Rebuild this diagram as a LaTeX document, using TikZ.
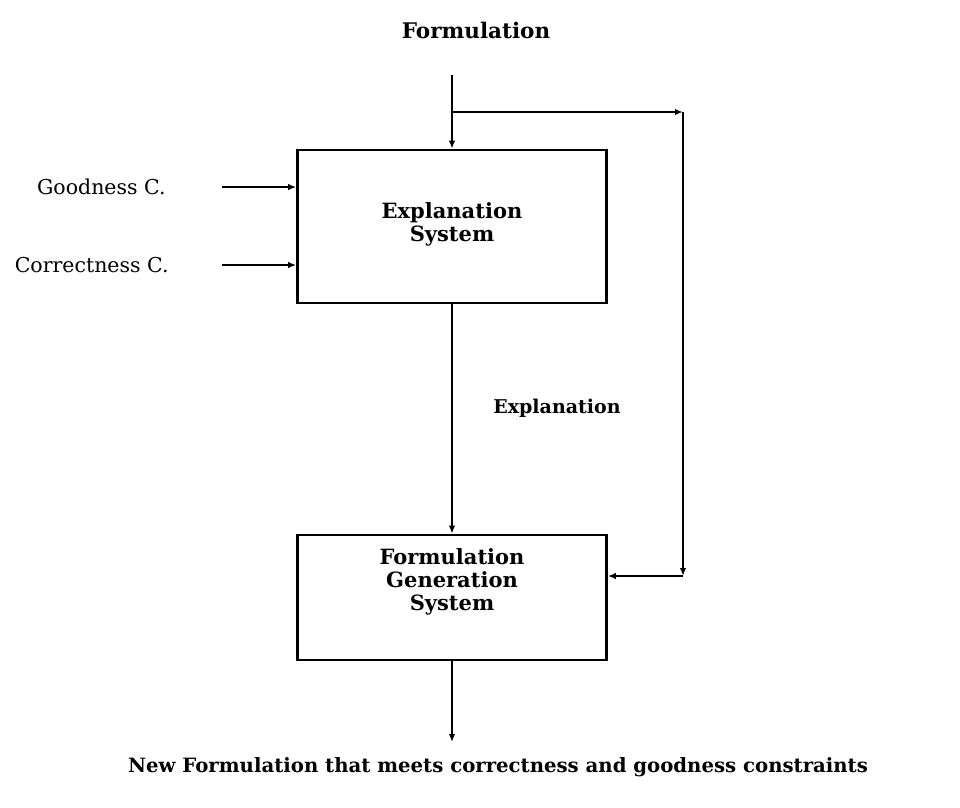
\documentclass[tikz,border=0pt]{standalone}
\usepackage{fontspec}
\setmainfont{DejaVu Serif}
\usetikzlibrary{arrows.meta}
\begin{document}
\begin{tikzpicture}[x=1pt,y=-1pt,
  line width=2.7pt,
  sysbox/.style={draw, minimum width=309pt},
  boxtext/.style={align=center, inner sep=0pt, font=\bfseries\fontsize{21}{23}\selectfont},
  tag/.style={font=\bfseries\fontsize{19}{22}\selectfont, inner sep=0pt},
  sidetag/.style={font=\fontsize{20.5}{22}\selectfont, inner sep=0pt, anchor=east},
  flow/.style={-{Latex[length=8pt,width=6.5pt]}}]
  \useasboundingbox (0,0) rectangle (960,807);

  % the two systems
  \node[sysbox, minimum height=153pt] (es) at (452,226.5) {};
  \node[boxtext] (estext) at (452,224) {Explanation\\System};
  \node[sysbox, minimum height=125pt] (fg) at (452,597.5) {};
  \node[boxtext] (fgtext) at (452,582) {Formulation\\Generation\\System};

  % incoming formulation and its branch around to the generator
  \node[tag, font=\bfseries\fontsize{21.5}{22}\selectfont] (formtop) at (476,30) {Formulation};
  \coordinate (in) at (452,75);
  \coordinate (split) at (452,112);
  \coordinate (ne) at (683,112);
  \coordinate (se) at (683,576);
  \draw[flow] (in) -- (es.north);
  \draw[flow] (split) -- (ne);
  \draw[flow] (ne) -- (se);
  \draw[flow] (se) -- (se -| fg.east);

  % constraint inputs
  \node[sidetag] (good) at (167,187) {Goodness C.};
  \node[sidetag] (corr) at (170,265) {Correctness C.};
  \coordinate (g0) at (222,187);
  \coordinate (c0) at (222,265);
  \draw[flow] (g0) -- (g0 -| es.west);
  \draw[flow] (c0) -- (c0 -| es.west);

  % explanation passed down
  \draw[flow] (es.south) -- (fg.north);
  \node[tag] (expl) at (557,408) {Explanation};

  % result
  \coordinate (out) at (452,742);
  \draw[flow] (fg.south) -- (out);
  \node[tag, font=\bfseries\fontsize{19.7}{22}\selectfont] (result) at (498,767) {New Formulation that meets correctness and goodness constraints};
\end{tikzpicture}
\end{document}
